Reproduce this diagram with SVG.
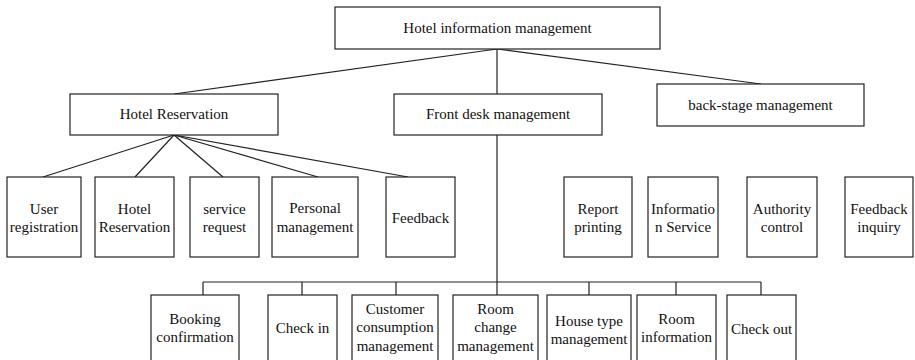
<svg xmlns="http://www.w3.org/2000/svg" width="915" height="360" viewBox="0 0 915 360">
<style>
rect{fill:#fff;stroke:#222;stroke-width:1.2}
line{stroke:#222;stroke-width:1.2}
text{font-family:'Liberation Serif','Times New Roman','DejaVu Serif',serif;font-size:15px;fill:#111;text-anchor:middle}
</style>
<rect x="0" y="0" width="915" height="360" style="stroke:none"/>
<g id="connectors">
<line x1="497" y1="49" x2="174" y2="94"/>
<line x1="497" y1="49" x2="497" y2="94"/>
<line x1="497" y1="49" x2="761" y2="84"/>
<line x1="174" y1="135" x2="43" y2="177"/>
<line x1="174" y1="135" x2="135" y2="177"/>
<line x1="174" y1="135" x2="223" y2="177"/>
<line x1="174" y1="135" x2="318" y2="177"/>
<line x1="174" y1="135" x2="408" y2="177"/>
<line x1="497" y1="135" x2="497" y2="295"/>
<line x1="203" y1="282" x2="761" y2="282"/>
<line x1="203" y1="282" x2="203" y2="295"/>
<line x1="302" y1="282" x2="302" y2="295"/>
<line x1="396" y1="282" x2="396" y2="295"/>
<line x1="589" y1="282" x2="589" y2="295"/>
<line x1="676" y1="282" x2="676" y2="295"/>
<line x1="761" y1="282" x2="761" y2="295"/>
</g>
<g id="root"><rect x="335" y="7" width="325" height="42"/><text x="497.5" y="33">Hotel information management</text></g>
<g id="hotel-reservation"><rect x="70" y="94" width="208" height="41"/><text x="174" y="119">Hotel Reservation</text></g>
<g id="front-desk"><rect x="394" y="94" width="208" height="41"/><text x="498" y="119">Front desk management</text></g>
<g id="back-stage"><rect x="657" y="84" width="207" height="42"/><text x="760.5" y="110">back-stage management</text></g>
<g id="user-registration"><rect x="7" y="177" width="74" height="80"/><text x="44" y="214">User</text><text x="44" y="232">registration</text></g>
<g id="hotel-reservation-2"><rect x="95" y="177" width="79" height="80"/><text x="134.5" y="214">Hotel</text><text x="134.5" y="232">Reservation</text></g>
<g id="service-request"><rect x="190" y="177" width="69" height="80"/><text x="224.5" y="214">service</text><text x="224.5" y="232">request</text></g>
<g id="personal-management"><rect x="272" y="177" width="86" height="80"/><text x="315" y="213">Personal</text><text x="315" y="232">management</text></g>
<g id="feedback"><rect x="386" y="177" width="69" height="80"/><text x="420.5" y="223">Feedback</text></g>
<g id="report-printing"><rect x="564" y="177" width="68" height="80"/><text x="598" y="214">Report</text><text x="598" y="232">printing</text></g>
<g id="information-service"><rect x="648" y="177" width="70" height="80"/><text x="683" y="214">Informatio</text><text x="683" y="232">n Service</text></g>
<g id="authority-control"><rect x="747" y="177" width="70" height="80"/><text x="782" y="214">Authority</text><text x="782" y="232">control</text></g>
<g id="feedback-inquiry"><rect x="845" y="177" width="68" height="80"/><text x="879" y="214">Feedback</text><text x="879" y="232">inquiry</text></g>
<g id="booking-confirmation"><rect x="151" y="295" width="88" height="80"/><text x="195" y="324">Booking</text><text x="195" y="342">confirmation</text></g>
<g id="check-in"><rect x="268" y="295" width="69" height="80"/><text x="302.5" y="333">Check in</text></g>
<g id="customer-consumption"><rect x="352" y="295" width="86" height="80"/><text x="395" y="314">Customer</text><text x="395" y="332">consumption</text><text x="395" y="351">management</text></g>
<g id="room-change"><rect x="453" y="295" width="85" height="80"/><text x="495.5" y="314">Room</text><text x="495.5" y="332">change</text><text x="495.5" y="351">management</text></g>
<g id="house-type"><rect x="547" y="295" width="84" height="80"/><text x="589" y="326">House type</text><text x="589" y="344">management</text></g>
<g id="room-information"><rect x="637" y="295" width="79" height="80"/><text x="676.5" y="324">Room</text><text x="676.5" y="342">information</text></g>
<g id="check-out"><rect x="727" y="295" width="69" height="80"/><text x="761.5" y="334">Check out</text></g>
</svg>
